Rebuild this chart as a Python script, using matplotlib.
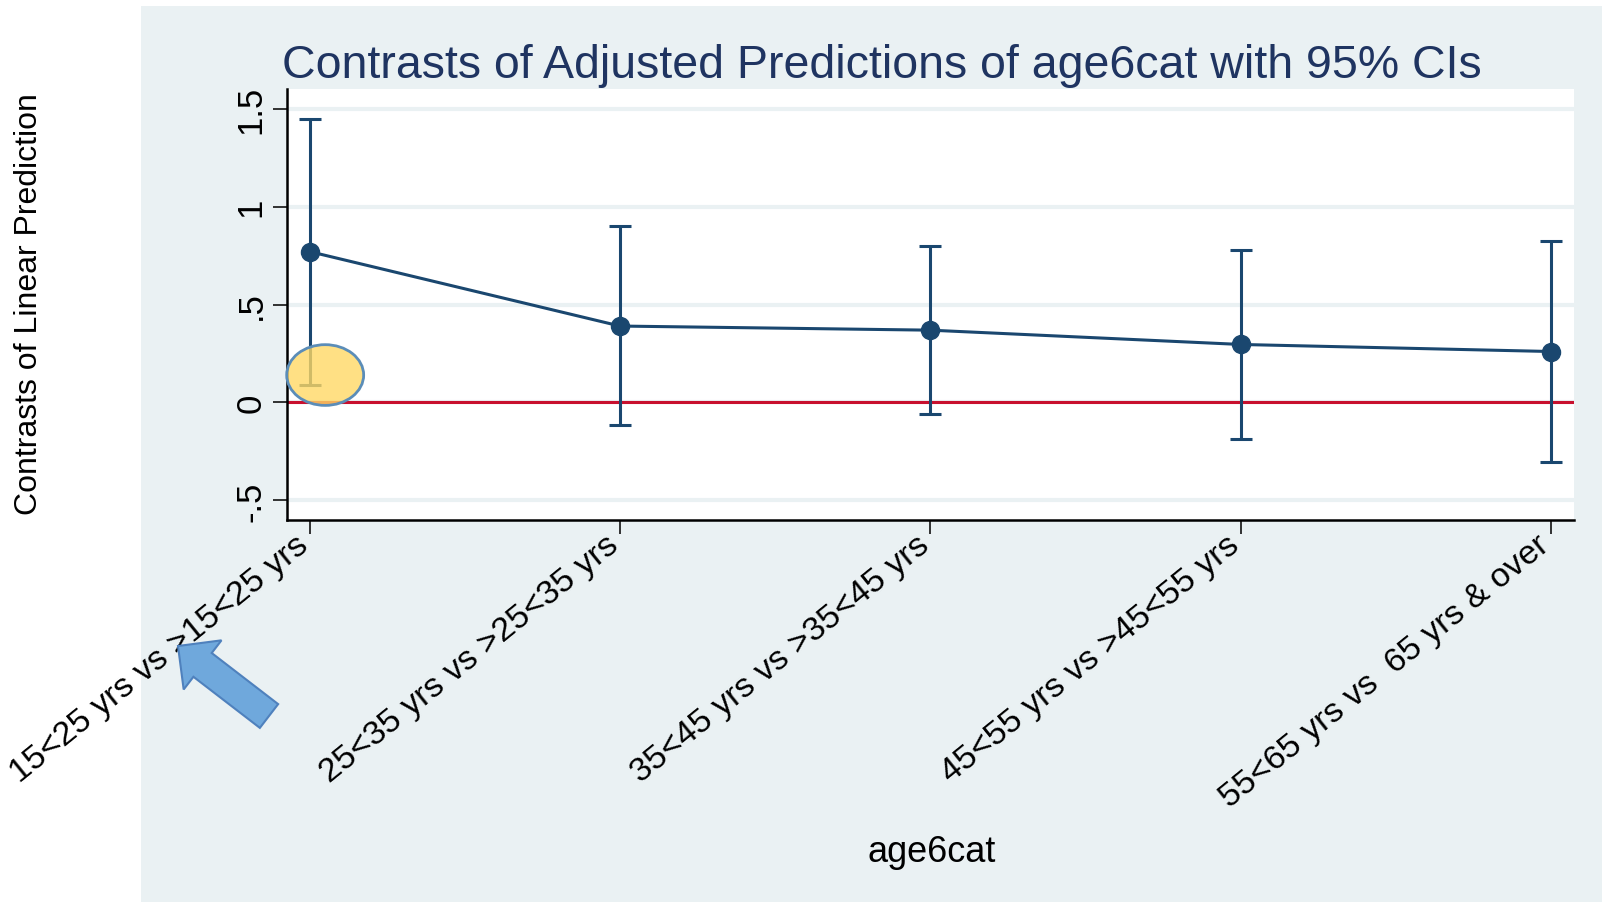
import matplotlib
matplotlib.use("Agg")
from matplotlib import pyplot as plt
import matplotlib.patches as mpatches
from matplotlib.transforms import IdentityTransform, ScaledTranslation

# contrasts of adjusted predictions (margins, contrast) with 95% CIs
categories = ["15<25 yrs vs >15<25 yrs",
              "25<35 yrs vs >25<35 yrs",
              "35<45 yrs vs >35<45 yrs",
              "45<55 yrs vs >45<55 yrs",
              "55<65 yrs vs  65 yrs & over"]
contrast = [0.77, 0.39, 0.369, 0.296, 0.26]
ci_low = [0.09, -0.116, -0.059, -0.184, -0.303]
ci_high = [1.445, 0.90, 0.797, 0.776, 0.824]
yticks = [-0.5, 0, 0.5, 1, 1.5]
yticklabels = ["-.5", "0", ".5", "1", "1.5"]

navy = "#1a476f"
panel = "#eaf1f3"

plt.rcParams["font.family"] = ["Liberation Sans", "DejaVu Sans"]

fig = plt.figure(figsize=(16.02, 9.03), dpi=100)
fig.patch.set_facecolor("white")

# graph region (the y title sits outside of it, on white)
fig.add_artist(mpatches.Rectangle((141 / 1602, 0), 1 - 141 / 1602, 1 - 7 / 903,
                                  transform=fig.transFigure, facecolor=panel,
                                  edgecolor="none", zorder=0))

ax = fig.add_axes([287 / 1602, 1 - 521 / 903, (1574 - 287) / 1602, (521 - 90) / 903])
ax.set_facecolor("white")

x = list(range(1, len(categories) + 1))
err = [[c - lo for c, lo in zip(contrast, ci_low)],
       [hi - c for c, hi in zip(contrast, ci_high)]]

ax.axhline(0, color="#c8102e", lw=2.2, zorder=2)
ax.errorbar(x, contrast, yerr=err, color=navy, lw=2.2, marker="o", ms=13,
            capsize=8, capthick=2.2, elinewidth=2.2, zorder=3)

ax.set_xlim(1 - 0.073, len(categories) + 0.074)
ax.set_ylim(-0.6, 1.6)
ax.set_yticks(yticks)
ax.set_yticklabels(yticklabels, rotation=90, va="center", fontsize=25)
ax.set_xticks(x)
ax.set_xticklabels([])

# slanted category labels, placed by hand just under the ticks
lab_tr = ax.get_xaxis_transform() + ScaledTranslation(-0.15, -0.09, fig.dpi_scale_trans)
for xi, cat in zip(x, categories):
    ax.text(xi, 0, cat, transform=lab_tr, rotation=39, ha="right", va="top",
            rotation_mode="anchor", fontsize=24.5, clip_on=False)

ax.grid(axis="y", color=panel, lw=3, zorder=1)
ax.set_axisbelow(True)

for s in ["top", "right"]:
    ax.spines[s].set_visible(False)
for s in ["left", "bottom"]:
    ax.spines[s].set_linewidth(1.8)
ax.tick_params(axis="both", direction="out", length=10, width=1.3, pad=4, color="#222222")

fig.text(882 / 1602, 1 - 66 / 903,
         "Contrasts of Adjusted Predictions of age6cat with 95% CIs",
         fontsize=33.5, color="#1f3461", ha="center", va="center")
fig.text(932 / 1602, 1 - 853 / 903, "age6cat", fontsize=26, ha="center", va="center")
fig.text(29 / 1602, 1 - 304 / 903, "Contrasts of Linear Prediction", fontsize=23,
         rotation=90, ha="center", va="center")

# highlight on the first lower bound
ax.add_patch(mpatches.Ellipse((1.05, 0.14), 0.248, 0.31, facecolor="#ffd966",
                              alpha=0.8, edgecolor="none", zorder=4, clip_on=False))
ax.add_patch(mpatches.Ellipse((1.05, 0.14), 0.248, 0.31, facecolor="none",
                              edgecolor="#5b8db8", lw=2, zorder=5, clip_on=False))

# arrow pointing at the first category label (pixel coords)
fig.add_artist(mpatches.FancyArrow(269, 186, -91, 70, width=30, head_width=62,
                                   head_length=31, length_includes_head=True,
                                   facecolor="#6fa8dc", edgecolor="#4f81bd", lw=1.5,
                                   transform=IdentityTransform(), zorder=10))

fig.savefig("out.png", dpi=100, facecolor=fig.get_facecolor())
